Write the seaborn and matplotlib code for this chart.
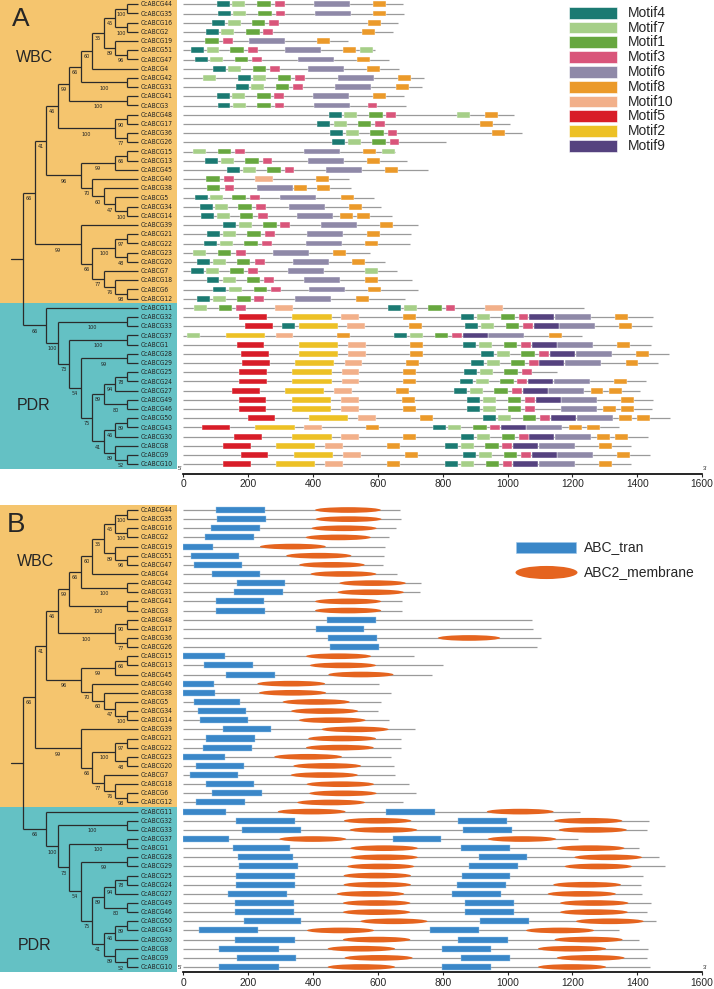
import os
import matplotlib
matplotlib.use("Agg")
import matplotlib.pyplot as plt
from matplotlib.patches import Ellipse
from matplotlib import font_manager as fm
import seaborn as sns

# ---------------- data ----------------
# ML tree of CcABCG genes (bootstrap after each clade)
tree_newick = ("((((((((((44,35)100,(16,2)100)45,(19,(51,47)96)89)35,4)60,(42,31)100)66,(41,3)100)99,"
               "((48,17)90,(36,26)77)100)46,(((15,13)66,45)99,(40,(38,(5,(34,14)100)47)60)70)96)41,"
               "(39,(((21,22)97,(23,20)48)100,(7,(18,(6,12)98)76)77)66)99)66,"
               "(11,((32,33)100,((37,1)100,((28,29)99,((((25,24)78,27)94,(49,46)80)89,"
               "(((50,43)89,30)46,(8,(9,10)52)89)41)75)54)73)100)66)")

gene_order = [44, 35, 16, 2, 19, 51, 47, 4, 42, 31, 41, 3, 48, 17, 36, 26, 15, 13, 45, 40, 38, 5, 34,
              14, 39, 21, 22, 23, 20, 7, 18, 6, 12, 11, 32, 33, 37, 1, 28, 29, 25, 24, 27, 49, 46, 50,
              43, 30, 8, 9, 10]
n_wbc = 33

gene_len_a = [677, 681, 663, 646, 507, 591, 633, 666, 743, 737, 681, 686, 1020, 1008, 1045, 809, 653,
              689, 755, 512, 516, 589, 609, 643, 723, 701, 698, 576, 622, 660, 704, 725, 682, 1235,
              1450, 1446, 1231, 1444, 1497, 1464, 1152, 1427, 1409, 1448, 1445, 1500, 1344, 1433,
              1382, 1441, 1382]
gene_len_b = [668, 671, 655, 635, 623, 619, 615, 658, 734, 731, 673, 673, 1075, 1080, 1102, 1092, 710,
              802, 766, 603, 641, 610, 599, 635, 714, 670, 671, 639, 649, 652, 695, 718, 676, 1223,
              1435, 1431, 1216, 1407, 1467, 1485, 1417, 1413, 1414, 1442, 1430, 1459, 1344, 1405,
              1434, 1431, 1440]

motif_names = ["Motif4", "Motif7", "Motif1", "Motif3", "Motif6", "Motif8", "Motif10", "Motif5",
               "Motif2", "Motif9"]
motif_colors = ["#1b7a72", "#a6cf88", "#67a73f", "#d9557a", "#8f89a8", "#eb9a2a", "#f2b08a",
                "#d81d28", "#edc125", "#55427f"]
motif_width = [40, 40, 42, 30, 111, 40, 55, 85, 121, 77]

# (gene, start aa)
motif4 = [(44, 104), (35, 106), (16, 89), (2, 70), (51, 24), (47, 37), (4, 90), (42, 168), (31, 161),
          (41, 104), (3, 105), (48, 448), (17, 413), (36, 453), (26, 458), (13, 66), (45, 135),
          (5, 35), (34, 50), (14, 55), (39, 123), (21, 73), (22, 64), (20, 42), (7, 22), (18, 71),
          (6, 92), (12, 42), (11, 631), (32, 856), (33, 305), (33, 870), (37, 651), (1, 864),
          (28, 919), (29, 888), (25, 866), (24, 853), (27, 836), (49, 876), (46, 876), (50, 923),
          (43, 769), (30, 857), (8, 806), (9, 864), (10, 807)]
motif7 = [(44, 151), (35, 153), (16, 136), (2, 117), (51, 71), (51, 545), (47, 83), (4, 137),
          (42, 59), (42, 215), (31, 208), (41, 151), (3, 152), (48, 496), (48, 845), (17, 463),
          (36, 502), (26, 508), (15, 30), (15, 614), (13, 116), (45, 183), (5, 82), (34, 96),
          (14, 102), (39, 171), (21, 122), (22, 113), (23, 30), (20, 90), (7, 69), (7, 560),
          (18, 121), (6, 141), (12, 91), (11, 32), (11, 681), (32, 905), (33, 918), (37, 10),
          (37, 700), (1, 912), (28, 968), (29, 937), (25, 914), (24, 902), (27, 884), (49, 924),
          (46, 924), (50, 972), (43, 817), (30, 906), (8, 856), (9, 913), (10, 857)]
motif1 = [(44, 228), (35, 230), (16, 211), (2, 193), (19, 67), (51, 145), (47, 158), (4, 213),
          (42, 291), (31, 284), (41, 227), (3, 228), (48, 573), (17, 538), (36, 577), (26, 583),
          (15, 105), (13, 191), (45, 259), (40, 70), (38, 72), (5, 151), (34, 169), (14, 174),
          (39, 245), (21, 196), (22, 187), (23, 105), (20, 164), (7, 145), (18, 195), (6, 217),
          (12, 165), (11, 109), (11, 756), (32, 980), (33, 994), (37, 775), (1, 988), (28, 1043),
          (29, 1012), (25, 989), (24, 977), (27, 959), (49, 1000), (46, 1000), (50, 1047),
          (43, 894), (30, 982), (8, 931), (9, 988), (10, 932)]
motif3 = [(44, 282), (35, 284), (16, 265), (2, 245), (19, 122), (51, 200), (47, 212), (4, 267),
          (42, 345), (31, 338), (41, 280), (3, 281), (3, 568), (48, 626), (17, 591), (36, 630),
          (26, 636), (15, 160), (13, 244), (45, 312), (40, 125), (38, 127), (5, 205), (34, 224),
          (14, 230), (39, 299), (21, 252), (22, 243), (23, 162), (20, 221), (7, 200), (18, 249),
          (6, 271), (12, 219), (11, 162), (11, 809), (32, 1034), (33, 1048), (37, 829), (1, 1042),
          (28, 1097), (29, 1066), (25, 1044), (24, 1030), (27, 1014), (49, 1054), (46, 1054),
          (50, 1100), (43, 947), (30, 1036), (8, 984), (9, 1042), (10, 985)]
motif6 = [(44, 403), (35, 405), (19, 201), (51, 312), (47, 354), (4, 384), (42, 476), (31, 469),
          (41, 401), (3, 402), (15, 371), (13, 384), (45, 439), (38, 227), (5, 299), (34, 326),
          (14, 349), (39, 423), (21, 380), (22, 377), (23, 277), (20, 337), (7, 323), (18, 373),
          (6, 386), (12, 345), (32, 1145), (33, 1160), (37, 941), (1, 1154), (28, 1210), (29, 1178),
          (24, 1143), (27, 1126), (49, 1166), (46, 1164), (50, 1213), (43, 1058), (30, 1147),
          (8, 1096), (9, 1154), (10, 1096)]
motif8 = [(44, 584), (35, 586), (16, 568), (2, 551), (19, 411), (51, 493), (47, 535), (4, 567),
          (42, 662), (31, 655), (41, 584), (48, 930), (17, 915), (36, 953), (15, 553), (13, 567),
          (45, 621), (40, 408), (38, 342), (38, 412), (5, 485), (34, 511), (14, 484), (14, 536),
          (39, 606), (21, 567), (22, 561), (23, 462), (20, 521), (18, 561), (6, 569), (12, 532),
          (32, 677), (32, 1332), (33, 695), (33, 1345), (37, 474), (37, 1127), (1, 698), (1, 1339),
          (28, 698), (28, 1396), (29, 687), (29, 1364), (25, 677), (24, 677), (24, 1329),
          (27, 655), (27, 1256), (27, 1312), (49, 675), (49, 1351), (46, 676), (46, 1294),
          (46, 1350), (50, 729), (50, 1343), (50, 1400), (43, 563), (43, 1189), (43, 1245),
          (30, 677), (30, 1276), (30, 1333), (8, 627), (8, 1283), (9, 683), (9, 1339), (10, 627),
          (10, 1283)]
motif10 = [(40, 220), (11, 283), (11, 931), (32, 487), (33, 506), (37, 284), (1, 509), (28, 509),
           (29, 497), (25, 488), (24, 488), (27, 465), (49, 486), (46, 486), (50, 540), (43, 373),
           (30, 487), (8, 438), (9, 492), (10, 438)]
motif5 = [(32, 172), (33, 191), (1, 164), (28, 178), (29, 181), (25, 172), (24, 172), (27, 150),
          (49, 171), (46, 171), (50, 198), (43, 58), (30, 156), (8, 122), (9, 177), (10, 122)]
motif2 = [(32, 336), (33, 355), (37, 132), (1, 357), (28, 357), (29, 344), (25, 336), (24, 336),
          (27, 313), (49, 334), (46, 334), (50, 387), (43, 222), (30, 336), (8, 285), (9, 340),
          (10, 285)]
motif9 = [(32, 1066), (33, 1081), (37, 862), (1, 1075), (28, 1130), (29, 1098), (24, 1063),
          (27, 1047), (49, 1087), (50, 1133), (43, 980), (30, 1067), (8, 1017), (9, 1075),
          (10, 1018)]
motif_sites = [motif4, motif7, motif1, motif3, motif6, motif8, motif10, motif5, motif2, motif9]

# Pfam domains (gene, start, end)
abc_tran = [(44, 100, 252), (35, 102, 254), (16, 86, 235), (2, 67, 217), (19, 0, 92), (51, 22, 170),
            (47, 33, 182), (4, 87, 236), (42, 165, 314), (31, 157, 307), (41, 100, 249),
            (3, 101, 250), (48, 443, 593), (17, 408, 558), (36, 446, 596), (26, 452, 602),
            (15, 0, 129), (13, 63, 213), (45, 130, 281), (40, 0, 94), (38, 0, 96), (5, 32, 174),
            (34, 46, 193), (14, 52, 199), (39, 121, 269), (21, 70, 220), (22, 61, 211),
            (23, 0, 129), (20, 38, 188), (7, 20, 169), (18, 69, 219), (6, 88, 241), (12, 39, 189),
            (11, 0, 132), (11, 625, 775), (32, 162, 344), (32, 848, 999), (33, 180, 362),
            (33, 862, 1013), (37, 0, 141), (37, 645, 795), (1, 153, 329), (1, 857, 1007),
            (28, 167, 339), (28, 911, 1061), (29, 170, 352), (29, 880, 1031), (25, 161, 344),
            (25, 859, 1009), (24, 161, 344), (24, 845, 995), (27, 138, 320), (27, 828, 979),
            (49, 159, 342), (49, 868, 1019), (46, 159, 342), (46, 868, 1019), (50, 186, 362),
            (50, 914, 1065), (43, 47, 229), (43, 760, 912), (30, 160, 344), (30, 848, 1000),
            (8, 109, 294), (8, 798, 949), (9, 164, 347), (9, 857, 1007), (10, 109, 294),
            (10, 798, 949)]
abc2_membrane = [(44, 406, 609), (35, 408, 611), (16, 395, 596), (2, 377, 578), (19, 236, 439),
                 (51, 317, 518), (47, 357, 559), (4, 392, 595), (42, 481, 686), (31, 475, 680),
                 (41, 406, 610), (3, 406, 610), (36, 785, 977), (15, 378, 579), (13, 390, 594),
                 (45, 447, 648), (40, 228, 437), (38, 233, 440), (5, 306, 513), (34, 332, 539),
                 (14, 356, 562), (39, 426, 633), (21, 385, 594), (22, 378, 587), (23, 280, 489),
                 (20, 339, 548), (7, 331, 538), (18, 380, 588), (6, 388, 596), (12, 351, 560),
                 (11, 291, 500), (11, 936, 1142), (32, 495, 703), (32, 1144, 1354), (33, 513, 721),
                 (33, 1158, 1368), (37, 296, 502), (37, 939, 1150), (1, 515, 723), (1, 1152, 1361),
                 (28, 515, 723), (28, 1206, 1415), (29, 505, 712), (29, 1176, 1384), (25, 494, 702),
                 (24, 494, 702), (24, 1141, 1350), (27, 473, 681), (27, 1124, 1334), (49, 492, 700),
                 (49, 1162, 1373), (46, 492, 700), (46, 1162, 1371), (50, 546, 753),
                 (50, 1211, 1420), (43, 381, 588), (43, 1057, 1267), (30, 492, 700),
                 (30, 1145, 1355), (8, 445, 653), (8, 1094, 1304), (9, 497, 707), (9, 1152, 1361),
                 (10, 445, 653), (10, 1094, 1304)]
domain_names = ["ABC_tran", "ABC2_membrane"]
domain_colors = ["#3a87c8", "#e5641f"]

# ---------------- style ----------------
sns.set_style("white")
plt.rcParams["font.family"] = ["Liberation Sans", "DejaVu Sans"]
wbc_bg, pdr_bg = "#f5c56e", "#64c1c4"
line_gray = "#9a9a9a"


def pick_narrow_font():
    # gene labels in the figure use a condensed face; take one if the system has it
    for f in fm.fontManager.ttflist:
        b = os.path.basename(f.fname).lower()
        if ("narrow" in b or "condensed" in b) and not any(
                w in b for w in ["bold", "italic", "oblique", "light", "medium", "thin", "black",
                                 "semi", "extra"]):
            return f.fname
    return None


narrow_file = pick_narrow_font()


def label_fp(size):
    if narrow_file:
        return fm.FontProperties(fname=narrow_file, size=size)
    return fm.FontProperties(family="Liberation Sans", size=size)


W, H = 714, 989
fig = plt.figure(figsize=(W / 100, H / 100), dpi=100)
renderer = fig.canvas.get_renderer()


def fit_size(text, target_px):
    t = fig.text(0, 0, text, fontproperties=label_fp(10))
    w = t.get_window_extent(renderer).width
    t.remove()
    return 10 * target_px / w


if narrow_file:
    gene_fs, boot_fs = fit_size("CcABCG44", 32), fit_size("100", 9.5)
else:
    gene_fs, boot_fs = 5.5, 4.9


def add_ax(x0, x1, y_top, y_bot):
    return fig.add_axes([x0 / W, 1 - y_bot / H, (x1 - x0) / W, (y_bot - y_top) / H])


def parse_newick(s):
    pos = 0

    def node():
        nonlocal pos
        if s[pos] == "(":
            pos += 1
            kids = []
            while True:
                kids.append(node())
                if s[pos] == ",":
                    pos += 1
                else:
                    pos += 1
                    break
            lab = ""
            while pos < len(s) and s[pos].isdigit():
                lab += s[pos]
                pos += 1
            return {"kids": kids, "boot": lab}
        name = ""
        while s[pos].isdigit():
            name += s[pos]
            pos += 1
        return {"kids": [], "name": int(name), "boot": ""}
    return node()


def layout(n, leaves):
    if not n["kids"]:
        n["y"] = len(leaves)
        leaves.append(n["name"])
        n["h"] = 0
    else:
        for k in n["kids"]:
            layout(k, leaves)
        n["h"] = 1 + max(k["h"] for k in n["kids"])
        n["y"] = (n["kids"][0]["y"] + n["kids"][-1]["y"]) / 2


def set_x(n, top):
    n["x"] = top - n["h"]
    for k in n["kids"]:
        set_x(k, top)


tree = parse_newick(tree_newick)
leaf_order = []
layout(tree, leaf_order)
set_x(tree, tree["h"])
row_of = {g: i for i, g in enumerate(gene_order)}
n_genes = len(gene_order)


def draw_edges(ax, n, parent_x=None):
    kw = dict(color="#2b2b2b", lw=0.9, solid_capstyle="butt")
    if parent_x is not None:
        ax.plot([parent_x, n["x"]], [n["y"], n["y"]], **kw)
        if n["boot"]:
            ax.text((parent_x + n["x"]) / 2, n["y"] + 0.62, n["boot"], fontproperties=label_fp(boot_fs),
                    ha="center", va="center", color="#222222")
    if n["kids"]:
        ax.plot([n["x"], n["x"]], [n["kids"][0]["y"], n["kids"][-1]["y"]], **kw)
        for k in n["kids"]:
            draw_edges(ax, k, n["x"])


def tree_panel(row0, step):
    ax = add_ax(0, 177, row0 - 0.5 * step, row0 + 50.5 * step)
    ax.set_ylim(n_genes - 0.5, -0.5)
    ax.set_xlim((0 - 23.3) / 11.5, (177 - 23.3) / 11.5)
    ax.axhspan(-0.5, n_wbc - 0.5, color=wbc_bg, lw=0, zorder=0)
    ax.axhspan(n_wbc - 0.5, n_genes - 0.5, color=pdr_bg, lw=0, zorder=0)
    draw_edges(ax, tree)
    ax.plot([-1.07, 0], [tree["y"], tree["y"]], color="#2b2b2b", lw=0.9)
    for i, g in enumerate(leaf_order):
        ax.text(10.22, i, f"CcABCG{g}", fontproperties=label_fp(gene_fs), va="center", ha="left",
                color="#222222")
    ax.axis("off")
    return ax


def track_panel(row0, step, axis_y):
    r_bot = (axis_y - row0) / step
    ax = add_ax(183.5, 702, row0 - 0.5 * step, axis_y)
    ax.set_xlim(0, 1600)
    ax.set_ylim(r_bot, -0.5)
    for sp in ["top", "right", "left"]:
        ax.spines[sp].set_visible(False)
    ax.spines["bottom"].set_linewidth(1.2)
    ax.spines["bottom"].set_color("black")
    ax.set_xticks(range(0, 1601, 200))
    ax.set_yticks([])
    ax.tick_params(axis="x", direction="out", length=2.5, width=0.8, pad=1.5, labelsize=7.4,
                   bottom=True)
    ax.text(-3, r_bot - 0.3, "5'", fontsize=4.2, ha="right", va="bottom")
    ax.text(1603, r_bot - 0.3, "3'", fontsize=4.2, ha="left", va="bottom")
    return ax


# ---------------- panel A ----------------
a_row0, a_step = 4.3, 9.2
tree_panel(a_row0, a_step)
axA = track_panel(a_row0, a_step, 473.5)
axA.hlines(range(n_genes), 0, gene_len_a, color=line_gray, lw=0.9, zorder=1)
for sites, w, c in zip(motif_sites, motif_width, motif_colors):
    rows = [row_of[g] for g, s in sites]
    starts = [s for g, s in sites]
    axA.barh(rows, w, left=starts, height=0.64, color=c, edgecolor="white", linewidth=0.3, zorder=3)

legA = add_ax(569, 700, 5.3, 153.3)
legA.set_xlim(0, 131)
legA.set_ylim(9.5, -0.5)
legA.barh(range(len(motif_names)), 48, left=0, height=0.8, color=motif_colors,
          edgecolor="white", linewidth=0.4)
for i, m in enumerate(motif_names):
    legA.text(59, i, m, fontsize=10, va="center", ha="left")
legA.axis("off")

# ---------------- panel B ----------------
b_row0, b_step = 510.0, 9.14
tree_panel(b_row0, b_step)
axB = track_panel(b_row0, b_step, 972.3)
axB.hlines(range(n_genes), 0, gene_len_b, color=line_gray, lw=0.9, zorder=1)
axB.barh([row_of[g] for g, s, e in abc_tran], [e - s for g, s, e in abc_tran],
         left=[s for g, s, e in abc_tran], height=0.66, color=domain_colors[0],
         edgecolor="#9cc7ea", linewidth=0.3, zorder=3)
for g, s, e in abc2_membrane:
    axB.add_patch(Ellipse(((s + e) / 2, row_of[g]), e - s, 0.62, color=domain_colors[1], lw=0,
                          zorder=3))

legB = add_ax(515, 714, 534.7, 585.1)
legB.set_xlim(0, 199)
legB.set_ylim(1.5, -0.5)
legB.barh([0], [60], left=[1], height=0.42, color=domain_colors[0], edgecolor="#9cc7ea",
          linewidth=0.4)
legB.add_patch(Ellipse((31.5, 1), 62, 0.52, color=domain_colors[1], lw=0))
for i, d in enumerate(domain_names):
    legB.text(69, i, d, fontsize=10, va="center", ha="left")
legB.axis("off")

# ---------------- panel labels ----------------
for txt, x, y, fs in [("A", 21, 19, 19), ("WBC", 35, 57.5, 11.5), ("PDR", 34, 406, 11.5),
                      ("B", 16, 525, 20), ("WBC", 35.5, 561, 11.5), ("PDR", 34.7, 945, 11.5)]:
    fig.text(x / W, 1 - y / H, txt, fontsize=fs, ha="center", va="center")

fig.savefig("out.png", dpi=100)
